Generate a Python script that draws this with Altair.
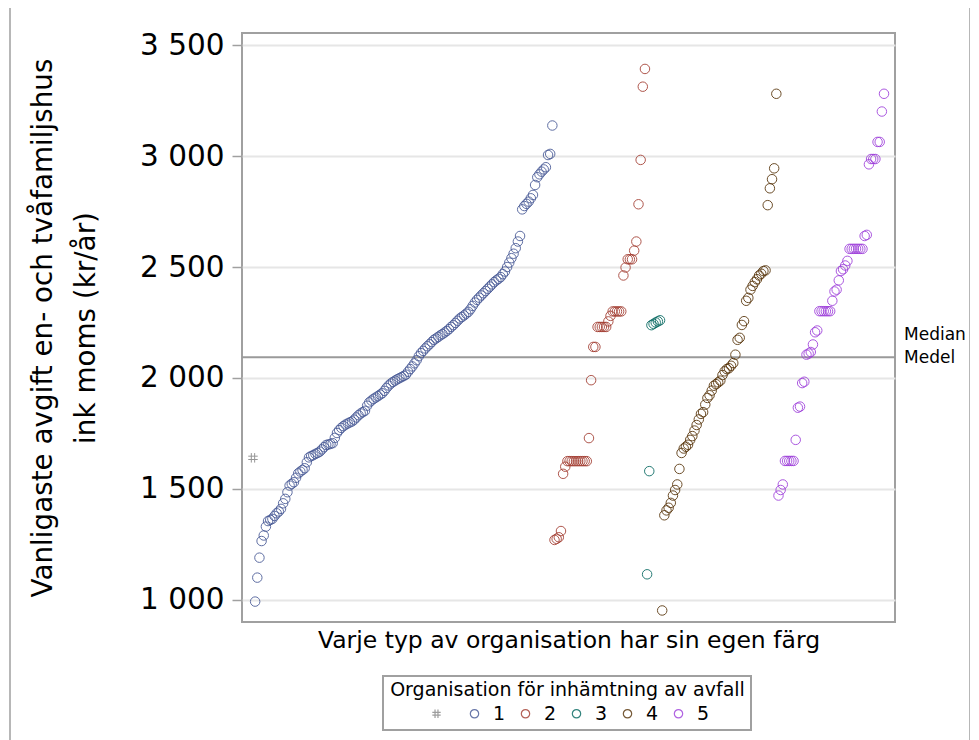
import altair as alt
import pandas as pd

# ---- data (sorted within each group) ----
org_hash = [1640]
org1 = [992, 1100, 1190, 1265, 1290, 1330, 1355, 1360, 1365, 1378,
        1390, 1398, 1410, 1435, 1455, 1485, 1515, 1523, 1530, 1550,
        1570, 1578, 1585, 1593, 1620, 1642, 1648, 1652, 1658, 1662,
        1668, 1678, 1688, 1698, 1700, 1703, 1706, 1730, 1752, 1765,
        1775, 1783, 1790, 1795, 1800, 1804, 1812, 1822, 1832, 1840,
        1846, 1852, 1875, 1890, 1898, 1906, 1912, 1918, 1925, 1931,
        1942, 1955, 1966, 1975, 1982, 1988, 1994, 1999, 2004, 2009,
        2015, 2028, 2040, 2052, 2066, 2080, 2098, 2112, 2122, 2133,
        2143, 2152, 2162, 2172, 2178, 2185, 2192, 2198, 2205, 2212,
        2220, 2230, 2238, 2248, 2258, 2268, 2275, 2282, 2290, 2298,
        2310, 2325, 2340, 2352, 2362, 2372, 2382, 2392, 2402, 2412,
        2422, 2432, 2440, 2447, 2455, 2468, 2480, 2500, 2520, 2540,
        2560, 2585, 2615, 2640, 2760, 2775, 2785, 2795, 2810, 2825,
        2870, 2905, 2918, 2930, 2940, 2950, 3005, 3010, 3138]
org2 = [1270, 1275, 1282, 1310, 1568, 1600,
        1625, 1625, 1625, 1625, 1625, 1625, 1625, 1625, 1625, 1625,
        1729, 1990, 2140, 2140,
        2230, 2230, 2230, 2230, 2230, 2255, 2280,
        2300, 2300, 2300, 2300, 2300,
        2462, 2498, 2535, 2535, 2535, 2574, 2615, 2783, 2983, 3313, 3393]
org3 = [1115, 1580, 2238, 2244, 2250, 2255, 2260]
org4 = [952, 1381, 1403, 1415, 1437, 1470, 1495, 1520, 1590,
        1662, 1682, 1690, 1699, 1721, 1738, 1763, 1788, 1813, 1838,
        1846, 1880, 1910, 1922, 1943, 1965, 1972, 1980, 1988, 2013,
        2030, 2040, 2044, 2055, 2067, 2105, 2172, 2181, 2239, 2256,
        2348, 2361, 2398, 2415, 2432, 2445, 2462, 2470, 2482, 2485,
        2779, 2855, 2896, 2945, 3281]
org5 = [1470, 1495, 1520, 1626, 1626, 1626, 1626, 1626, 1721,
        1866, 1871, 1977, 1983, 2105, 2110, 2117, 2151, 2206, 2214,
        2301, 2301, 2301, 2301, 2301, 2301, 2348, 2390, 2398, 2440,
        2482, 2490, 2507, 2528,
        2582, 2582, 2582, 2582, 2582, 2582, 2582, 2640, 2645,
        2963, 2987, 2987, 2987, 3064, 3064, 3201, 3281]

categories = ["#", "1", "2", "3", "4", "5"]
colors = ["#858585", "#445694", "#A23A2E", "#01665E", "#543005", "#9D3CDB"]
median_value = [2093]
y_ticks = [1000, 1500, 2000, 2500, 3000, 3500]

groups = [org_hash, org1, org2, org3, org4, org5]
rows = []
i = 0
for cat, vals in zip(categories, groups):
    for v in vals:
        rows.append({"idx": i, "value": v, "org": cat})
        i += 1
df = pd.DataFrame(rows)

W, H = 653, 589
FONT = "DejaVu Sans"
HASH = "M-0.35,-1V1M0.35,-1V1M-1,-0.35H1M-1,0.35H1"

y_enc = alt.Y(
    "value:Q",
    scale=alt.Scale(domain=[900, 3555], nice=False, zero=False),
    axis=alt.Axis(
        values=y_ticks,
        labelExpr="replace(format(datum.value, ','), ',', ' ')",
        labelFont=FONT, labelFontSize=29.5, labelColor="black", labelPadding=8,
        tickColor="#a0a0a0", tickSize=10, tickWidth=1.5, domain=False,
        gridColor="#e6e6e6", gridWidth=2,
        title=["Vanligaste avgift en- och tvåfamiljshus", "ink moms (kr/år)"],
        titleFont=FONT, titleFontSize=27.8, titleFontWeight="normal", titleColor="black",
        titleAngle=270, titleX=-213, titleY=H / 2, titleAlign="center",
        titleBaseline="top", titleLineHeight=43,
    ),
)

legend = alt.Legend(
    title=None, orient="none", legendX=185, legendY=671, direction="horizontal",
    labelExpr="datum.label == '#' ? '' : datum.label",
    labelFont=FONT, labelFontSize=19, labelColor="black", labelOffset=9,
    columnPadding=10, symbolSize=70, symbolStrokeWidth=1.2, symbolOpacity=0.8,
    padding=0,
)

points = alt.Chart(df).mark_point(filled=False, size=90, strokeWidth=1, opacity=0.85).encode(
    x=alt.X(
        "idx:Q",
        scale=alt.Scale(domain=[-5.1, 298.1], nice=False, zero=False),
        axis=alt.Axis(
            title="Varje typ av organisation har sin egen färg",
            labels=False, ticks=False, domain=False, grid=False,
            titleFont=FONT, titleFontSize=23.5, titleFontWeight="normal",
            titleColor="black", titlePadding=6,
        ),
    ),
    y=y_enc,
    color=alt.Color("org:N", scale=alt.Scale(domain=categories, range=colors), legend=legend),
    shape=alt.Shape("org:N", scale=alt.Scale(domain=categories,
                    range=[HASH, "circle", "circle", "circle", "circle", "circle"]), legend=legend),
)

med_df = pd.DataFrame({"value": median_value})
rule = alt.Chart(med_df).mark_rule(color="#9a9a9a", strokeWidth=2).encode(y=y_enc)
txt1 = alt.Chart(med_df).mark_text(font=FONT, fontSize=17, align="left", baseline="middle",
                                   color="black", dy=-22).encode(
    y=y_enc, x=alt.value(W + 9), text=alt.value("Median"))
txt2 = alt.Chart(med_df).mark_text(font=FONT, fontSize=17, align="left", baseline="middle",
                                   color="black", dy=1).encode(
    y=y_enc, x=alt.value(W + 9), text=alt.value("Medel"))

leg_title_df = pd.DataFrame({"t": ["Organisation för inhämtning av avfall"]})
leg_title = alt.Chart(leg_title_df).mark_text(font=FONT, fontSize=19, align="center",
                                              baseline="middle", color="black").encode(
    x=alt.value(325.5), y=alt.value(657), text="t:N")
leg_box = alt.Chart(leg_title_df).mark_rect(fillOpacity=0, stroke="#a0a0a0", strokeWidth=2).encode(
    x=alt.value(141), x2=alt.value(509), y=alt.value(643), y2=alt.value(697))
frame = alt.Chart(leg_title_df).mark_rect(fillOpacity=0, stroke="#a0a0a0", strokeWidth=1.5).encode(
    x=alt.value(-232), x2=alt.value(728), y=alt.value(-60), y2=alt.value(760))

chart = alt.layer(frame, rule, points, txt1, txt2, leg_box, leg_title).properties(
    width=W, height=H,
    autosize=alt.AutoSizeParams(type="none"),
    padding={"left": 234, "top": 25, "right": 75, "bottom": 118},
).configure_view(stroke="#a0a0a0", strokeWidth=2)

chart.save("out.html", embed_options={"renderer": "svg", "actions": False})
